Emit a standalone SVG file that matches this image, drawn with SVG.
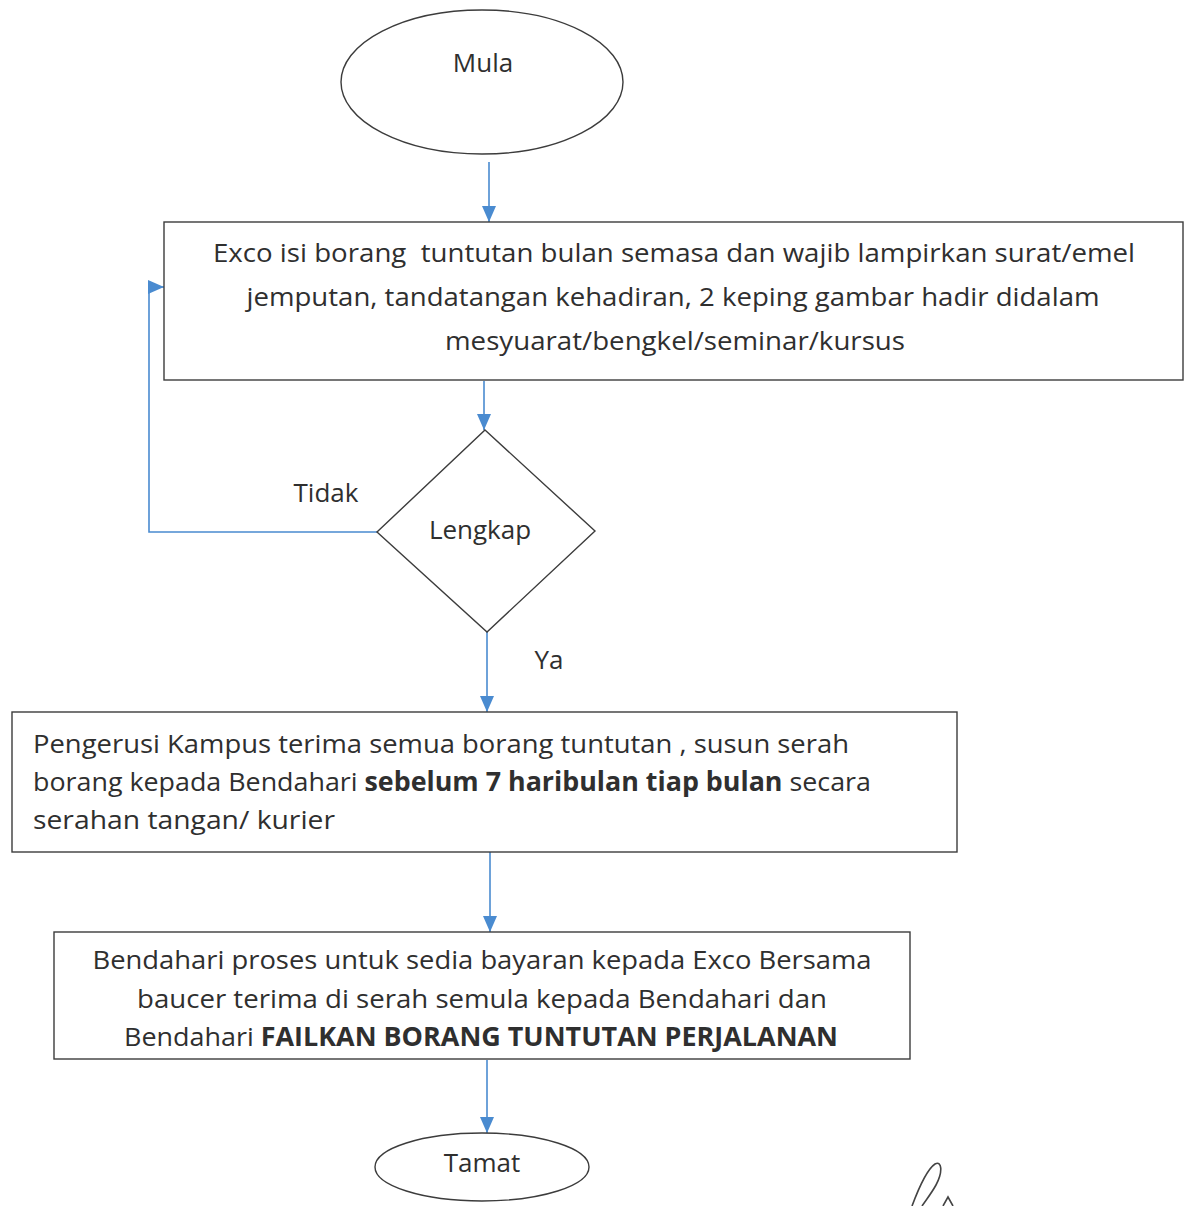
<svg xmlns="http://www.w3.org/2000/svg" width="1187" height="1206" viewBox="0 0 1187 1206">
<style>
.shape{fill:#ffffff;stroke:#3c3c3c;stroke-width:1.4}
.conn{fill:none;stroke:#4a8bd0;stroke-width:1.6}
text{font-family:"Open Sans","Noto Sans","Liberation Sans",sans-serif;font-size:26px;fill:#2f2f2f}
.c{text-anchor:middle}
.b{font-weight:bold}
</style>
<defs>
<marker id="arr" viewBox="0 0 16 14" refX="16" refY="7" markerWidth="16" markerHeight="14" markerUnits="userSpaceOnUse" orient="auto">
<path d="M0,0 L16,7 L0,14 z" fill="#4a8bd0"/>
</marker>
</defs>
<rect width="1187" height="1206" fill="#ffffff"/>
<g id="connectors">
<path class="conn" d="M489 162 V222" marker-end="url(#arr)"/>
<path class="conn" d="M484 381 V430" marker-end="url(#arr)"/>
<path class="conn" d="M377 532 H149 V287 H164" marker-end="url(#arr)"/>
<path class="conn" d="M487 632 V712" marker-end="url(#arr)"/>
<path class="conn" d="M490 852 V932" marker-end="url(#arr)"/>
<path class="conn" d="M487 1060 V1133" marker-end="url(#arr)"/>
</g>
<g id="mula">
<ellipse class="shape" cx="482" cy="82" rx="141" ry="72"/>
<text class="c" x="483" y="72">Mula</text>
</g>
<g id="exco">
<rect class="shape" x="164" y="222" width="1019" height="158"/>
<text class="c" x="674" y="262" textLength="922" lengthAdjust="spacingAndGlyphs" xml:space="preserve">Exco isi borang  tuntutan bulan semasa dan wajib lampirkan surat/emel</text>
<text class="c" x="673" y="306" textLength="853" lengthAdjust="spacingAndGlyphs">jemputan, tandatangan kehadiran, 2 keping gambar hadir didalam</text>
<text class="c" x="675" y="350" textLength="460" lengthAdjust="spacingAndGlyphs">mesyuarat/bengkel/seminar/kursus</text>
</g>
<g id="lengkap">
<polygon class="shape" points="485,430 595,531 487,632 377,532"/>
<text class="c" x="480" y="539">Lengkap</text>
</g>
<g id="label-tidak">
<text class="c" x="326" y="502">Tidak</text>
</g>
<g id="label-ya">
<text class="c" x="549" y="669">Ya</text>
</g>
<g id="pengerusi">
<rect class="shape" x="12" y="712" width="945" height="140"/>
<text x="33" y="753" textLength="816" lengthAdjust="spacingAndGlyphs">Pengerusi Kampus terima semua borang tuntutan , susun serah</text>
<text x="33" y="791" textLength="838" lengthAdjust="spacingAndGlyphs">borang kepada Bendahari <tspan class="b">sebelum 7 haribulan tiap bulan</tspan> secara</text>
<text x="33" y="829" textLength="302" lengthAdjust="spacingAndGlyphs">serahan tangan/ kurier</text>
</g>
<g id="bendahari">
<rect class="shape" x="54" y="932" width="856" height="127"/>
<text class="c" x="482" y="969" textLength="779" lengthAdjust="spacingAndGlyphs">Bendahari proses untuk sedia bayaran kepada Exco Bersama</text>
<text class="c" x="482" y="1008" textLength="690" lengthAdjust="spacingAndGlyphs">baucer terima di serah semula kepada Bendahari dan</text>
<text class="c" x="481" y="1046" textLength="714" lengthAdjust="spacingAndGlyphs">Bendahari <tspan class="b">FAILKAN BORANG TUNTUTAN PERJALANAN</tspan></text>
</g>
<g id="tamat">
<ellipse class="shape" cx="482" cy="1167" rx="107" ry="34"/>
<text class="c" x="482" y="1172">Tamat</text>
</g>
<g id="signature">
<path d="M912 1206 C918 1190 926 1170 935 1164 C942 1160 943 1172 936 1185 C931 1194 926 1200 922 1206 M943 1206 L948 1197 L953 1206" fill="none" stroke="#444444" stroke-width="1.6"/>
</g>
</svg>
